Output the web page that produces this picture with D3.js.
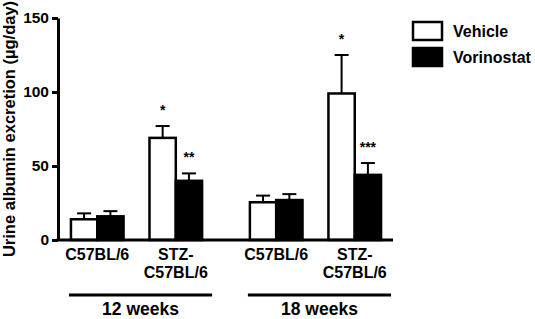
<!DOCTYPE html>
<html>
<head>
<meta charset="utf-8">
<script src="https://cdn.jsdelivr.net/npm/d3@7"></script>
<style>
  body { margin: 0; background: #fff; }
  text { font-family: "Liberation Sans", Arial, sans-serif; font-weight: bold; }
</style>
</head>
<body>
<div id="chart"></div>
<script>
var w = 535;
var h = 319;

// data
var periods = ["12 weeks", "18 weeks"];
var strains = ["C57BL/6", "STZ-C57BL/6"];
var series = ["Vehicle", "Vorinostat"];
var means = [
    [14, 16, 69, 40],   // 12 weeks: C57 veh, C57 vor, STZ veh, STZ vor
    [25.5, 27, 99, 44]  // 18 weeks
];
var errs = [
    [4, 3.5, 8, 5],
    [4.5, 4, 26, 8]
];
var stars = [
    ["", "", "*", "**"],
    ["", "", "*", "***"]
];
var yTicks = [0, 50, 100, 150];

var rows = [];
periods.forEach(function(p, i) {
    strains.forEach(function(s, j) {
        series.forEach(function(t, k) {
            rows.push({
                period: p, strain: s, series: t,
                value: means[i][j * 2 + k],
                err: errs[i][j * 2 + k],
                star: stars[i][j * 2 + k]
            });
        });
    });
});

var svg = d3.select("#chart")
    .append("svg")
    .attr("width", w)
    .attr("height", h);

var y = d3.scaleLinear().domain([0, 150]).range([240, 18]);

var xPeriod = d3.scaleBand()
    .domain(periods)
    .range([60, 400])
    .paddingInner(0.2)
    .paddingOuter(0.05);

var xStrain = d3.scaleBand()
    .domain(strains)
    .range([2, xPeriod.bandwidth() - 10])
    .paddingInner(0.33);

var xSeries = d3.scaleBand()
    .domain(series)
    .range([0, xStrain.bandwidth()]);

var color = d3.scaleOrdinal().domain(series).range(["#fff", "#000"]);

function barX(d) {
    return xPeriod(d.period) + xStrain(d.strain) + xSeries(d.series);
}

// y axis
var axisX = 58;
var yAxis = svg.append("g")
    .attr("transform", "translate(" + axisX + ",0)")
    .call(d3.axisLeft(y).tickValues(yTicks).tickSize(6).tickSizeOuter(0).tickPadding(3));
yAxis.select(".domain").attr("stroke-width", 3);
yAxis.selectAll(".tick line").attr("stroke-width", 3);
yAxis.selectAll(".tick text").style("font-size", "15.5px").attr("fill", "#000");

svg.append("text")
    .attr("transform", "translate(15,129) rotate(-90)")
    .attr("text-anchor", "middle")
    .style("font-size", "16.5px")
    .text("Urine albumin excretion (\u00b5g/day)");

// error bars
var eb = svg.selectAll("g.err")
    .data(rows)
    .enter()
    .append("g")
    .attr("class", "err")
    .attr("stroke", "#000")
    .attr("stroke-width", 2);
eb.append("line")
    .attr("x1", function(d) { return barX(d) + xSeries.bandwidth() / 2; })
    .attr("x2", function(d) { return barX(d) + xSeries.bandwidth() / 2; })
    .attr("y1", function(d) { return y(d.value); })
    .attr("y2", function(d) { return y(d.value + d.err); });
eb.append("line")
    .attr("x1", function(d) { return barX(d) + xSeries.bandwidth() / 2 - 7; })
    .attr("x2", function(d) { return barX(d) + xSeries.bandwidth() / 2 + 7; })
    .attr("y1", function(d) { return y(d.value + d.err); })
    .attr("y2", function(d) { return y(d.value + d.err); });

// bars
svg.selectAll("rect.bar")
    .data(rows)
    .enter()
    .append("rect")
    .attr("class", "bar")
    .attr("x", function(d) { return barX(d); })
    .attr("y", function(d) { return y(d.value); })
    .attr("width", xSeries.bandwidth())
    .attr("height", function(d) { return y(0) - y(d.value); })
    .attr("fill", function(d) { return color(d.series); })
    .attr("stroke", "#000")
    .attr("stroke-width", 2.5);

// significance stars
svg.selectAll("text.star")
    .data(rows.filter(function(d) { return d.star; }))
    .enter()
    .append("text")
    .attr("class", "star")
    .attr("x", function(d) { return barX(d) + xSeries.bandwidth() / 2; })
    .attr("y", function(d) { return y(d.value + d.err) - 11; })
    .attr("text-anchor", "middle")
    .style("font-size", "14px")
    .text(function(d) { return d.star; });

// x baseline
var xEnd = xPeriod(periods[1]) + xPeriod.bandwidth() + 2;
svg.append("line")
    .attr("x1", axisX - 1.5).attr("x2", xEnd)
    .attr("y1", y(0)).attr("y2", y(0))
    .attr("stroke", "#000").attr("stroke-width", 3);

// strain labels
periods.forEach(function(p) {
    strains.forEach(function(s) {
        var cx = xPeriod(p) + xStrain(s) + xStrain.bandwidth() / 2;
        var parts = s.indexOf("STZ-") === 0 ? ["STZ-", s.slice(4)] : [s];
        var t = svg.append("text")
            .attr("x", cx)
            .attr("y", 260)
            .attr("text-anchor", "middle")
            .style("font-size", "16px");
        parts.forEach(function(line, i) {
            t.append("tspan").attr("x", cx).attr("dy", i ? 18 : 0).text(line);
        });
    });
});

// period brackets
periods.forEach(function(p) {
    svg.append("line")
        .attr("x1", xPeriod(p)).attr("x2", xPeriod(p) + xPeriod.bandwidth())
        .attr("y1", 295).attr("y2", 295)
        .attr("stroke", "#000").attr("stroke-width", 3);
    svg.append("text")
        .attr("x", xPeriod(p) + xPeriod.bandwidth() / 2)
        .attr("y", 315)
        .attr("text-anchor", "middle")
        .style("font-size", "17.5px")
        .text(p);
});

// legend
var legend = svg.selectAll("g.legend")
    .data(series)
    .enter()
    .append("g")
    .attr("class", "legend")
    .attr("transform", function(d, i) { return "translate(413," + (22 + i * 26) + ")"; });
legend.append("rect")
    .attr("width", 29).attr("height", 18)
    .attr("fill", function(d) { return color(d); })
    .attr("stroke", "#000").attr("stroke-width", 2.5);
legend.append("text")
    .attr("x", 40).attr("y", 15)
    .style("font-size", "16px")
    .text(function(d) { return d; });
</script>
</body>
</html>
